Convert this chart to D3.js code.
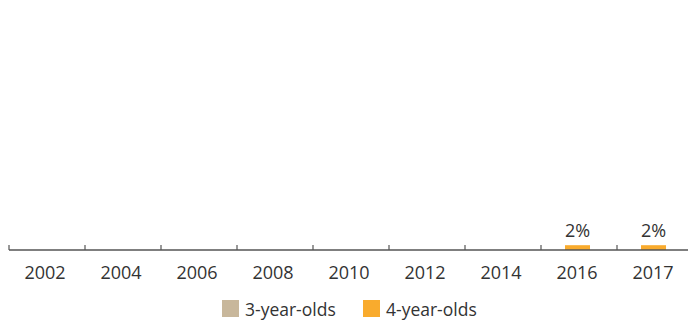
<!DOCTYPE html>
<html><head><meta charset="utf-8">
<script src="https://cdn.jsdelivr.net/npm/d3@7"></script>
<style>body{margin:0;background:#fff;}svg{display:block;font-family:"Open Sans",sans-serif;}</style>
</head><body><svg id="c" width="688" height="322"></svg>
<script>
const years = ["2002","2004","2006","2008","2010","2012","2014","2016","2017"];
const threeYearOlds = [0,0,0,0,0,0,0,0,0];
const fourYearOlds = [0,0,0,0,0,0,0,2,2];
const seriesNames = ["3-year-olds","4-year-olds"];
const colors = ["#c8b79b","#f9ab2d"];

(function(){
const svg = d3.select("#c");
const mLeft = 9, mRight = 693, mTop = 10, mBottom = 250;
const x = d3.scaleBand().domain(years).range([mLeft, mRight]);
const y = d3.scaleLinear().domain([0,100]).range([mBottom, mTop]);

const barW = 25;
const g = svg.append("g");
const data = years.map((yr,i)=>({yr, a:threeYearOlds[i], b:fourYearOlds[i]}));
g.selectAll("rect.a").data(data.filter(d=>d.a>0)).join("rect")
  .attr("x", d=>x(d.yr)+x.bandwidth()/2-barW-1).attr("width", barW)
  .attr("y", d=>y(d.a)).attr("height", d=>y(0)-y(d.a)).attr("fill", colors[0]);
g.selectAll("rect.b").data(data.filter(d=>d.b>0)).join("rect")
  .attr("x", d=>x(d.yr)+x.bandwidth()/2-barW/2-1.5).attr("width", barW)
  .attr("y", d=>y(d.b)).attr("height", d=>y(0)-y(d.b)).attr("fill", colors[1]);
g.selectAll("text.lbl").data(data.filter(d=>d.b>0)).join("text")
  .attr("x", d=>x(d.yr)+x.bandwidth()/2-1.5).attr("y", d=>y(d.b)-8)
  .attr("text-anchor","middle").attr("font-size",18).attr("fill","#333")
  .text(d=>d.b+"%");

const ax = svg.append("g").attr("transform",`translate(0,${mBottom})`);
ax.append("line").attr("x1",mLeft).attr("x2",688).attr("y1",0).attr("y2",0)
  .attr("stroke","#555").attr("stroke-width",1.5);
ax.selectAll("line.t").data(years).join("line")
  .attr("x1",d=>x(d)).attr("x2",d=>x(d)).attr("y1",0).attr("y2",-5)
  .attr("stroke","#555").attr("stroke-width",1.2);
ax.selectAll("text").data(years).join("text")
  .attr("x",d=>x(d)+x.bandwidth()/2-2).attr("y",29)
  .attr("text-anchor","middle").attr("font-size",18).attr("fill","#333")
  .text(d=>d);

const leg = svg.append("g");
const legX = [222, 363];
seriesNames.forEach((n,i)=>{
  leg.append("rect").attr("x",legX[i]).attr("y",300).attr("width",17).attr("height",17).attr("fill",colors[i]);
  leg.append("text").attr("x",legX[i]+23).attr("y",316).attr("font-size",17.5).attr("fill","#333").text(n);
});
})();
</script></body></html>
